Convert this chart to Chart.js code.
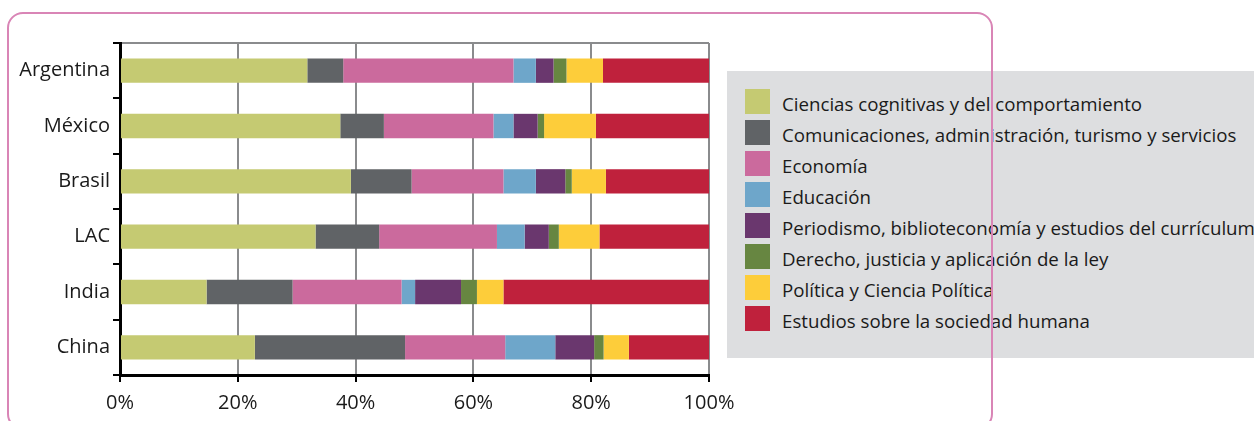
<!DOCTYPE html>
<html>
<head>
<meta charset="utf-8">
<script src="https://cdn.jsdelivr.net/npm/chart.js@4"></script>
<style>
  body { margin: 0; width: 1254px; height: 421px; overflow: hidden; background: #fff; font-family: "Open Sans", sans-serif; }
  #wrap { position: absolute; left: 0; top: 0; width: 745px; height: 421px; }
  #legend { position: absolute; left: 727px; top: 71px; width: 600px; height: 287px; background: #dddee0; }
  #legend .item { position: absolute; left: 18px; height: 25px; display: flex; align-items: center; }
  #legend .sw { width: 25px; height: 25px; margin-right: 12px; flex: none; }
  #legend .lbl { font-size: 18.7px; color: #1a1a1a; white-space: nowrap; position: relative; top: 2px; }
  #frame { position: absolute; left: 7px; top: 12px; width: 982px; height: 414px; border: 2px solid #d985b6; border-radius: 16px; pointer-events: none; }
</style>
</head>
<body>
<div id="wrap"><canvas id="chart"></canvas></div>
<div id="legend"></div>
<div id="frame"></div>
<script>
// categories
const countries = ['Argentina', 'México', 'Brasil', 'LAC', 'India', 'China'];

// share of each field (%), same order as countries
const cognitivas   = [31.8, 37.4, 39.2, 33.2, 14.7, 22.9];
const comunicacion = [6.1, 7.4, 10.3, 10.8, 14.6, 25.5];
const economia     = [28.9, 18.6, 15.6, 20.0, 18.5, 17.0];
const educacion    = [3.8, 3.4, 5.5, 4.7, 2.3, 8.5];
const periodismo   = [3.0, 4.1, 5.0, 4.1, 7.8, 6.6];
const derecho      = [2.2, 1.1, 1.1, 1.7, 2.7, 1.6];
const politica     = [6.2, 8.8, 5.8, 6.9, 4.5, 4.3];
const sociedad     = [18.0, 19.2, 17.5, 18.6, 34.9, 13.6];

const xTicks = [0, 20, 40, 60, 80, 100];

function ds(label, data, color) {
    return { label: label, data: data, backgroundColor: color, borderWidth: 0,
             barPercentage: 0.44, categoryPercentage: 1 };
}

const datasets = [
    ds('Ciencias cognitivas y del comportamiento', cognitivas, '#c5ca72'),
    ds('Comunicaciones, administración, turismo y servicios', comunicacion, '#606366'),
    ds('Economía', economia, '#cb6a9d'),
    ds('Educación', educacion, '#6ea6ca'),
    ds('Periodismo, biblioteconomía y estudios del currículum', periodismo, '#6a376e'),
    ds('Derecho, justicia y aplicación de la ley', derecho, '#678641'),
    ds('Política y Ciencia Política', politica, '#fdcd3a'),
    ds('Estudios sobre la sociedad humana', sociedad, '#bf213c'),
];

const chart = new Chart(document.getElementById('chart'), {
    type: 'bar',
    data: { labels: countries, datasets: datasets },
    options: {
        indexAxis: 'y',
        responsive: true,
        maintainAspectRatio: false,
        animation: false,
        layout: { padding: { top: 43, right: 36, left: 0, bottom: 0 } },
        plugins: { legend: { display: false }, tooltip: { enabled: false } },
        scales: {
            x: {
                stacked: true,
                min: 0, max: 100,
                afterBuildTicks: function (scale) {
                    scale.ticks = xTicks.map(v => ({ value: v }));
                },
                afterFit: function (scale) { scale.height = 46; },
                grid: { color: '#8a8b8d', lineWidth: 2, tickColor: '#000', tickLength: 7 },
                border: { color: '#000', width: 3 },
                ticks: {
                    color: '#1a1a1a', padding: 9,
                    font: { family: 'Open Sans', size: 20 },
                    callback: v => v + '%'
                }
            },
            y: {
                stacked: true,
                afterFit: function (scale) { scale.width = 120; },
                grid: {
                    offset: true, lineWidth: 2, tickLength: 7, tickColor: '#000',
                    color: c => c.index === 0 ? '#8a8b8d' : 'rgba(0,0,0,0)'
                },
                border: { color: '#000', width: 3 },
                ticks: {
                    color: '#1a1a1a', padding: 3,
                    font: { family: 'Open Sans', size: 20 }
                }
            }
        }
    }
});

// legend box built from the chart's datasets
const legend = document.getElementById('legend');
chart.data.datasets.forEach(function (d, i) {
    const item = document.createElement('div');
    item.className = 'item';
    item.style.top = (18 + i * 31) + 'px';
    item.innerHTML = '<div class="sw" style="background:' + d.backgroundColor + '"></div><span class="lbl">' + d.label + '</span>';
    legend.appendChild(item);
});
</script>
</body>
</html>
